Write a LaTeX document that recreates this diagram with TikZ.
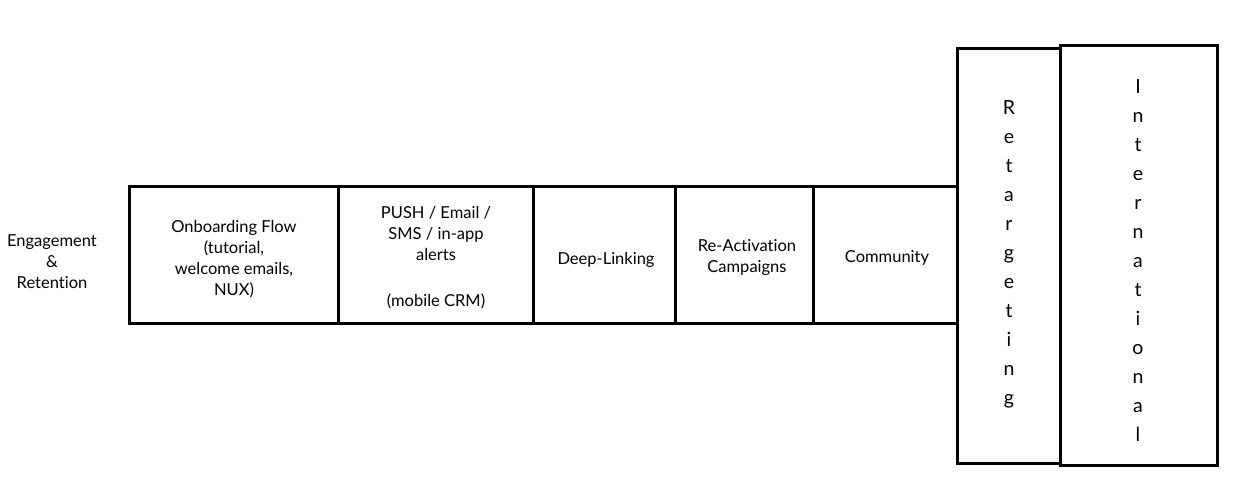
\documentclass[tikz,border=0pt]{standalone}
\usepackage{fontspec}
\setmainfont{Lato}[Ligatures=NoCommon]
\begin{document}
\begin{tikzpicture}[x=1pt,y=-1pt,
  cell/.style={draw,line width=3pt,inner sep=0pt,minimum height=136pt},
  tall/.style={draw,line width=3pt,inner sep=0pt},
  vtext/.style={align=center,inner sep=0pt,font=\fontsize{19.5}{29}\selectfont},
  lbl/.style={align=center,inner sep=0pt,font=\fontsize{16.5}{21}\selectfont}]
\useasboundingbox (0,0) rectangle (1239,489);
\node[lbl] (eng) at (52,262) {Engagement\\\&\\Retention};
\node[cell,minimum width=209pt] (onb) at (233.5,255) {};
\node[lbl] (onbt) at (234,259) {Onboarding Flow\\(tutorial,\\welcome emails,\\NUX)};
\node[cell,minimum width=195pt] (push) at (435.5,255) {};
\node[lbl] (pusht) at (436,258) {PUSH / Email /\\SMS / in-app\\alerts\\[25pt](mobile CRM)};
\node[cell,minimum width=142pt] (deep) at (604,255) {};
\node[lbl] (deept) at (606,260) {Deep-Linking};
\node[cell,minimum width=138pt] (react) at (744,255) {};
\node[lbl] (reactt) at (747,257) {Re-Activation\\Campaigns};
\node[cell,minimum width=144pt] (comm) at (885,255) {};
\node[lbl] (commt) at (887,258) {Community};
\node[tall,minimum width=103pt,minimum height=414pt] (ret) at (1008.5,256) {};
\node[vtext] (rett) at (1009,254) {R\\e\\t\\a\\r\\g\\e\\t\\i\\n\\g};
\node[tall,minimum width=157pt,minimum height=419pt] (intl) at (1138.5,255.5) {};
\node[vtext] (intlt) at (1138,261) {I\\n\\t\\e\\r\\n\\a\\t\\i\\o\\n\\a\\l};
\end{tikzpicture}
\end{document}
